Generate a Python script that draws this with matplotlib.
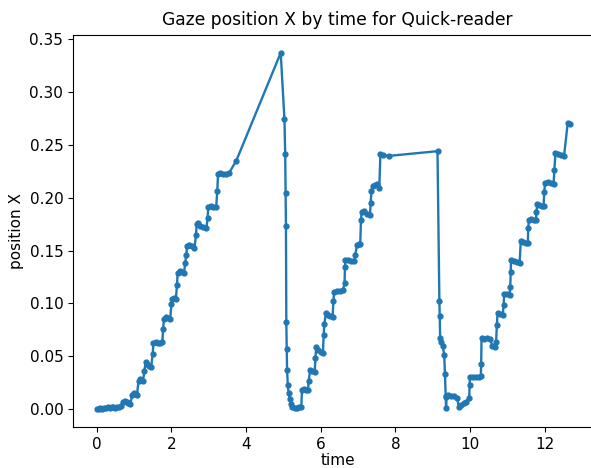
import numpy as np
import matplotlib.pyplot as plt

# gaze samples
time = np.array([
    0.00, 0.05, 0.10, 0.15, 0.20, 0.25, 0.30, 0.35, 0.40, 0.45, 0.50, 0.55, 0.60, 0.65,
    0.70, 0.75, 0.80, 0.85, 0.90, 0.95, 1.00, 1.05, 1.08, 1.12, 1.16, 1.20, 1.24,
    1.28, 1.31, 1.35, 1.40, 1.46, 1.50, 1.52, 1.58, 1.64, 1.70, 1.76, 1.78, 1.80,
    1.86, 1.92, 1.97, 2.00, 2.02, 2.07, 2.12, 2.15, 2.17, 2.22, 2.28, 2.34, 2.37,
    2.40, 2.42, 2.48, 2.55, 2.62, 2.66, 2.68, 2.72, 2.78, 2.86, 2.94, 2.97, 2.99,
    3.05, 3.12, 3.20, 3.23, 3.25, 3.30, 3.38, 3.46, 3.54, 3.74,
    4.93, 5.03, 5.05, 5.06, 5.07, 5.08, 5.09, 5.10, 5.12, 5.14, 5.17, 5.20, 5.24,
    5.30, 5.36, 5.42, 5.48, 5.50, 5.55, 5.62, 5.66, 5.68, 5.72, 5.78, 5.84, 5.86,
    5.88, 5.94, 6.00, 6.06, 6.08, 6.10, 6.14, 6.20, 6.26, 6.32, 6.34, 6.36, 6.44,
    6.52, 6.60, 6.64, 6.65, 6.66, 6.74, 6.82, 6.90, 6.93, 6.97, 7.02, 7.06, 7.08,
    7.10, 7.16, 7.24, 7.32, 7.34, 7.36, 7.40, 7.46, 7.52, 7.57, 7.60, 7.66, 7.82,
    9.13, 9.18, 9.19, 9.20, 9.23, 9.27, 9.31, 9.33, 9.35, 9.36, 9.37, 9.42, 9.50,
    9.58, 9.66, 9.70, 9.76, 9.84, 9.90, 9.98, 9.99, 10.00, 10.08, 10.16, 10.24,
    10.29, 10.30, 10.31, 10.38, 10.46, 10.54, 10.60, 10.66, 10.70, 10.72, 10.74,
    10.80, 10.88, 10.90, 10.92, 10.98, 11.06, 11.08, 11.09, 11.10, 11.18, 11.26,
    11.33, 11.36, 11.42, 11.50, 11.55, 11.56, 11.58, 11.64, 11.72, 11.77, 11.78,
    11.80, 11.86, 11.92, 11.97, 11.99, 12.01, 12.08, 12.16, 12.24, 12.26, 12.29,
    12.36, 12.44, 12.52, 12.62, 12.68])

position_x = np.array([
    0.000, 0.000, 0.001, 0.000, 0.001, 0.001, 0.002, 0.001, 0.002, 0.002, 0.001, 0.002, 0.002, 0.003,
    0.007, 0.008, 0.007, 0.006, 0.005, 0.013, 0.015, 0.014, 0.013, 0.027, 0.029, 0.028, 0.027,
    0.036, 0.045, 0.043, 0.041, 0.040, 0.052, 0.063, 0.064, 0.063, 0.063, 0.064, 0.076, 0.085,
    0.087, 0.086, 0.085, 0.099, 0.104, 0.105, 0.104, 0.117, 0.129, 0.131, 0.130, 0.129, 0.138,
    0.146, 0.154, 0.155, 0.154, 0.152, 0.165, 0.175, 0.176, 0.173, 0.172, 0.171, 0.181, 0.191,
    0.192, 0.191, 0.191, 0.206, 0.222, 0.223, 0.222, 0.222, 0.223, 0.235,
    0.337, 0.274, 0.241, 0.204, 0.173, 0.082, 0.057, 0.037, 0.0225, 0.0155, 0.0098, 0.005, 0.002,
    0.001, 0.001, 0.002, 0.002, 0.018, 0.019, 0.018, 0.018, 0.027, 0.037, 0.036, 0.035, 0.048,
    0.059, 0.056, 0.054, 0.053, 0.070, 0.081, 0.091, 0.089, 0.088, 0.087, 0.102, 0.111, 0.112,
    0.112, 0.113, 0.119, 0.134, 0.141, 0.141, 0.140, 0.140, 0.146, 0.155, 0.156, 0.156, 0.179,
    0.186, 0.187, 0.185, 0.184, 0.195, 0.206, 0.211, 0.212, 0.213, 0.209, 0.241, 0.2405, 0.2395,
    0.244, 0.102, 0.088, 0.0675, 0.064, 0.060, 0.051, 0.033, 0.0115, 0.001, 0.012, 0.013, 0.012,
    0.012, 0.011, 0.002, 0.004, 0.006, 0.007, 0.0105, 0.0225, 0.030, 0.030, 0.030, 0.030,
    0.031, 0.043, 0.067, 0.066, 0.067, 0.066, 0.060, 0.059, 0.064, 0.0795, 0.091,
    0.090, 0.089, 0.0985, 0.109, 0.109, 0.108, 0.116, 0.130, 0.141, 0.140, 0.139,
    0.138, 0.159, 0.158, 0.157, 0.157, 0.171, 0.179, 0.180, 0.179, 0.179, 0.186,
    0.194, 0.193, 0.192, 0.192, 0.205, 0.214, 0.215, 0.214, 0.213, 0.226, 0.242,
    0.241, 0.240, 0.2395, 0.271, 0.2695])

fig = plt.figure(figsize=(5.91, 4.68), dpi=100)
# right edge of the axes runs off the picture, as in the reference
ax = fig.add_axes([0.1235, 0.0876, 0.895, 0.8376])
ax.plot(time, position_x, '.-', color='#1f77b4', linewidth=1.7, markersize=7)
ax.set_xlim(-0.635, 13.535)
ax.set_title('Gaze position X by time for Quick-reader', fontsize=12.3, pad=7)
ax.set_xlabel('time', fontsize=11, labelpad=1)
ax.set_ylabel('position X', fontsize=11)
ax.tick_params(labelsize=11)

fig.savefig('out.png')
